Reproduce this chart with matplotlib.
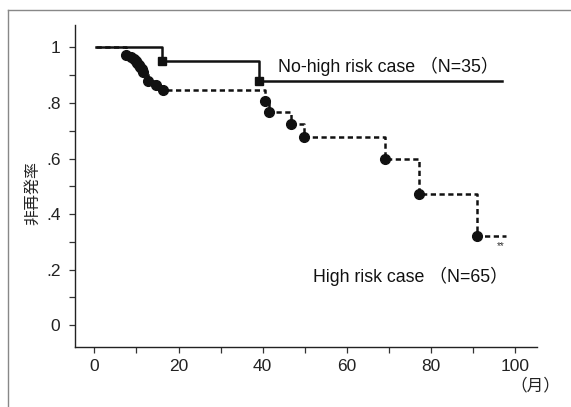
import matplotlib
matplotlib.use("Agg")
import matplotlib.pyplot as plt
from matplotlib.lines import Line2D

# Data
nohigh_t = [0.5, 16.0, 39.1, 96.8]
nohigh_s = [1.0, 0.950, 0.879, 0.879]
nohigh_event_t = [16.0, 39.1]
nohigh_event_s = [0.950, 0.879]

high_t = [0.5, 7.5, 8.6, 9.3, 9.8, 10.2, 10.6, 10.9, 11.3, 11.6, 12.8, 14.7, 16.2,
          40.5, 41.6, 46.7, 49.9, 69.0, 77.1, 90.8, 97.9]
high_s = [1.0, 0.973, 0.965, 0.957, 0.950, 0.943, 0.936, 0.929, 0.921, 0.913,
          0.880, 0.864, 0.847,
          0.808, 0.766, 0.723, 0.679, 0.598, 0.472, 0.322, 0.322]
high_event_t = high_t[1:-1]
high_event_s = high_s[1:-1]

yticks = [0, 0.2, 0.4, 0.6, 0.8, 1.0]
ytick_labels = ["0", ".2", ".4", ".6", ".8", "1"]
xticks = [0, 20, 40, 60, 80, 100]
xtick_labels = ["0", "20", "40", "60", "80", "100"]

label_nohigh = "No-high risk case （N=35）"
label_high = "High risk case （N=65）"
ylabel = "非再発率"
xunit = "（月）"

fam = ["Liberation Sans", "Noto Sans CJK JP"]
cjk = ["Noto Sans CJK JP", "DejaVu Sans"]

fig = plt.figure(figsize=(5.71, 4.07), dpi=100)
ax = fig.add_axes([75/571, 1 - 347.3/407, 461.7/571, 322.3/407])

ink = "#111111"
ax.step(high_t, high_s, where="post", color=ink, lw=1.8,
        linestyle=(0, (2.1, 1.4)), zorder=2)
ax.plot(high_event_t, high_event_s, "o", color=ink, ms=7, zorder=3)

ax.step(nohigh_t, nohigh_s, where="post", color=ink, lw=1.8, zorder=4)
ax.plot(nohigh_event_t, nohigh_event_s, "s", color=ink, ms=6.3, zorder=5)

ax.set_xlim(-4.6, 105.1)
ax.set_ylim(-0.080, 1.081)

for s in ["top", "right"]:
    ax.spines[s].set_visible(False)
for s in ["left", "bottom"]:
    ax.spines[s].set_linewidth(1.0)
    ax.spines[s].set_color("#222222")

ax.set_xticks(xticks)
ax.set_xticklabels(xtick_labels)
ax.set_xticks(range(10, 100, 20), minor=True)
ax.set_yticks(yticks)
ax.set_yticklabels(ytick_labels)
ax.set_yticks([0.1, 0.3, 0.5, 0.7, 0.9], minor=True)
ax.tick_params(which="both", direction="out", length=4.5, width=0.9,
               color="#333333", labelsize=12.5, labelcolor="#222222")
ax.tick_params(axis="x", pad=4)
ax.tick_params(axis="y", pad=6)
for lab in ax.get_xticklabels() + ax.get_yticklabels():
    lab.set_family(fam)

ax.text(43.6, 0.931, label_nohigh, fontsize=12.8, family=fam, color=ink,
        va="center", ha="left")
ax.text(52.0, 0.174, label_high, fontsize=12.8, family=fam, color=ink,
        va="center", ha="left")
ax.text(96.5, 0.286, "**", fontsize=7, family=fam, color="#333333",
        va="center", ha="center")

fig.text(535/571, 1 - 386/407, xunit, fontsize=12, family=cjk,
         color="#222222", ha="center", va="center")
fig.text(33/571, 1 - 193/407, ylabel, fontsize=11.5, family=cjk,
         color="#222222", ha="center", va="center", rotation=90)

# outer frame lines (left and top)
fig.add_artist(Line2D([8/571, 8/571], [0, 1 - 10/407], color="#888888",
                      lw=1.0, transform=fig.transFigure))
fig.add_artist(Line2D([8/571, 1], [1 - 10/407, 1 - 10/407], color="#888888",
                      lw=1.0, transform=fig.transFigure))

fig.savefig("out.png", dpi=100)
